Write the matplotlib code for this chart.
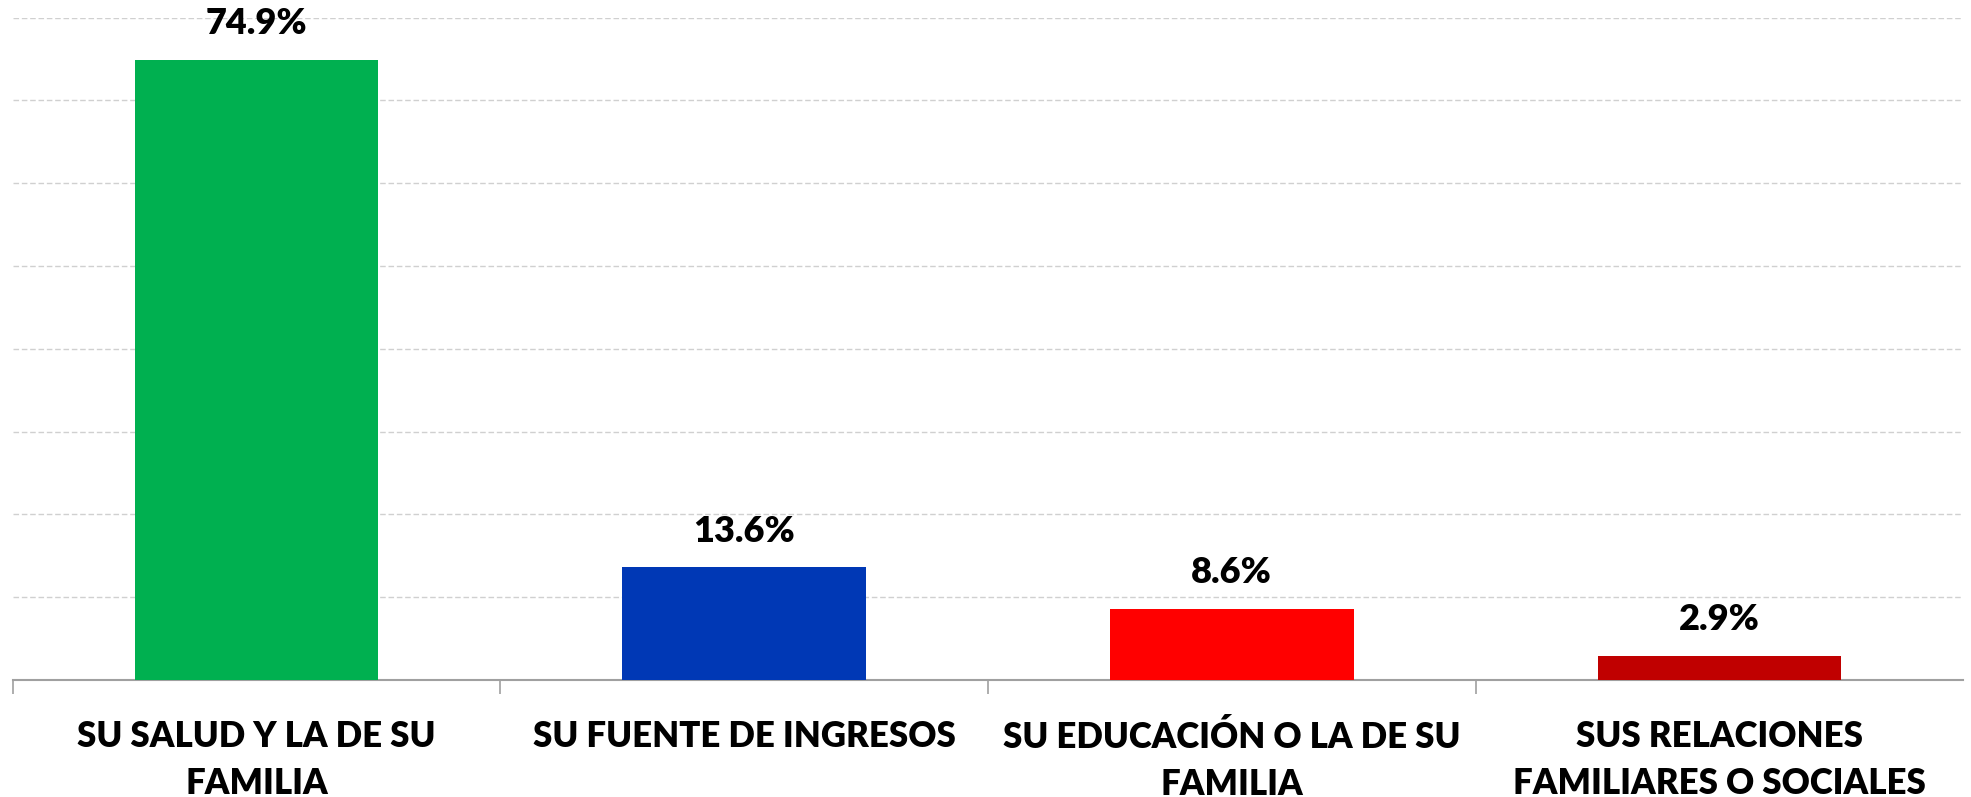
import numpy as np
import matplotlib
matplotlib.use('Agg')
import matplotlib.pyplot as plt
from matplotlib.ticker import FixedLocator, NullFormatter

categories = ['SU SALUD Y LA DE SU\nFAMILIA', 'SU FUENTE DE INGRESOS',
              'SU EDUCACIÓN O LA DE SU\nFAMILIA', 'SUS RELACIONES\nFAMILIARES O SOCIALES']
values = [74.9, 13.6, 8.6, 2.9]
value_labels = ['74.9%', '13.6%', '8.6%', '2.9%']
colors = ['#00B050', '#0038B5', '#FF0000', '#C00000']

plt.rcParams['font.family'] = ['Lato', 'DejaVu Sans']

fig = plt.figure(figsize=(19.71, 7.97), dpi=100)
ax = fig.add_axes([0.0064, 0.1468, 0.9897, 0.8311])

x = np.arange(len(categories))
bars = ax.bar(x, values, width=0.5, color=colors, zorder=3)

# etiquetas de valor sobre cada barra
for bar, lab in zip(bars, value_labels):
    ax.annotate(lab, (bar.get_x() + bar.get_width() / 2, bar.get_height()),
                xytext=(0, 26), textcoords='offset points', ha='center', va='center',
                fontsize=26, fontweight='heavy', color='black')

ax.set_xlim(-0.5, len(categories) - 0.5)
ax.set_ylim(0, 80)
ax.set_yticks(np.arange(10, 81, 10))
ax.yaxis.grid(True, linestyle=(0, (4, 2)), color='#D0D0D0', linewidth=1.0, zorder=0)
ax.tick_params(axis='y', left=False, labelleft=False)

ax.set_xticks(x)
ax.set_xticklabels(categories, fontsize=25, fontweight='heavy', linespacing=1.5)
ax.tick_params(axis='x', which='major', length=0, pad=29)
ax.xaxis.set_minor_locator(FixedLocator(np.arange(-0.5, len(categories) - 1, 1.0)))
ax.xaxis.set_minor_formatter(NullFormatter())
ax.tick_params(axis='x', which='minor', length=10, width=1.2, color='#A0A0A0')

for side in ['top', 'right', 'left']:
    ax.spines[side].set_visible(False)
ax.spines['bottom'].set_color('#A0A0A0')
ax.spines['bottom'].set_linewidth(1.5)

fig.savefig('out.png', dpi=100)
